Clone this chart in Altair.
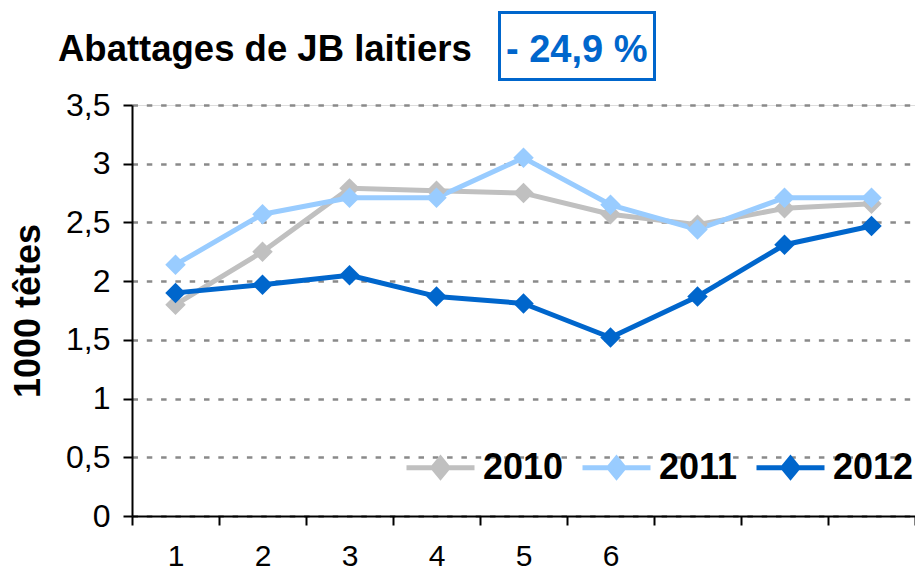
import altair as alt
import pandas as pd

# ---- data ----
periods = [1, 2, 3, 4, 5, 6, 7, 8, 9]
series_names = ["2010", "2011", "2012"]
y2010 = [1.80, 2.25, 2.79, 2.77, 2.75, 2.57, 2.48, 2.62, 2.66]
y2011 = [2.14, 2.57, 2.71, 2.71, 3.05, 2.65, 2.44, 2.71, 2.71]
y2012 = [1.90, 1.97, 2.05, 1.87, 1.81, 1.52, 1.87, 2.31, 2.47]
colors = ["#C0C0C0", "#99CCFF", "#0066CC"]
y_ticks = [0, 0.5, 1, 1.5, 2, 2.5, 3, 3.5]
x_ticks = [0.5, 1.5, 2.5, 3.5, 4.5, 5.5, 6.5, 7.5, 8.5, 9.5]
max_labelled = 6
title_text = "Abattages de JB laitiers"
badge_text = "- 24,9 %"
y_title = "1000 têtes"

rows = []
for name, vals in zip(series_names, [y2010, y2011, y2012]):
    for p, v in zip(periods, vals):
        rows.append({"periode": p, "valeur": v, "annee": name})
df = pd.DataFrame(rows)

FONT = "Liberation Sans"
W, H = 783, 411
step = W / 9.0

x_enc = alt.X(
    "periode:Q",
    scale=alt.Scale(domain=[0.5, 9.5], nice=False, zero=False),
    axis=alt.Axis(
        values=x_ticks,
        labelExpr=f"datum.value + 0.5 <= {max_labelled} ? toString(datum.value + 0.5) : ''",
        labelOffset=step / 2,
        labelFlush=False,
        labelOverlap=False,
        labelFont=FONT,
        labelFontSize=30,
        labelColor="black",
        labelPadding=16,
        tickSize=9,
        tickWidth=2,
        tickColor="black",
        domainColor="black",
        domainWidth=2,
        grid=False,
        title=None,
    ),
)
y_enc = alt.Y(
    "valeur:Q",
    scale=alt.Scale(domain=[0, 3.5], nice=False),
    axis=alt.Axis(
        values=y_ticks,
        labelExpr="replace(toString(datum.value), '.', ',')",
        labelFont=FONT,
        labelFontSize=32,
        labelColor="black",
        labelPadding=13,
        tickSize=9,
        tickWidth=2,
        tickColor="black",
        domainColor="black",
        domainWidth=2,
        grid=True,
        gridDash=[5.5, 8.8],
        gridColor="#8a8a8a",
        gridWidth=2.5,
        title=y_title,
        titleFont=FONT,
        titleFontSize=36,
        titleFontWeight="bold",
        titleColor="black",
        titleX=-85,
        titleY=H / 2,
    ),
)

legend_path = "M-1,0L-0.24,0M0.24,0L1,0M-0.22,0L0,-0.27L0.22,0L0,0.27Z"
legend = alt.Legend(
    orient="none",
    legendX=272,
    legendY=326,
    direction="horizontal",
    title=None,
    symbolType=legend_path,
    symbolSize=4624,
    symbolStrokeWidth=5,
    labelFont=FONT,
    labelFontSize=36,
    labelFontWeight="bold",
    labelColor="black",
    labelOffset=6,
    columnPadding=8,
    padding=0,
    symbolOpacity=1,
)

scale_c = alt.Scale(domain=series_names, range=colors)

lines = alt.Chart(df).mark_line(strokeWidth=5, strokeJoin="round").encode(
    x=x_enc,
    y=y_enc,
    stroke=alt.Stroke("annee:N", scale=scale_c, legend=legend),
    detail="annee:N",
)
points = alt.Chart(df).mark_point(filled=True, shape="diamond", size=420, opacity=1).encode(
    x=x_enc,
    y=y_enc,
    fill=alt.Fill("annee:N", scale=scale_c, legend=legend),
)

title_df = pd.DataFrame({"t": [title_text]})
badge_df = pd.DataFrame({"t": [badge_text]})

title_mark = alt.Chart(title_df).mark_text(
    font=FONT, fontSize=36.5, fontWeight="bold", color="black", align="left", baseline="alphabetic"
).encode(text="t:N", x=alt.value(-74), y=alt.value(-44))

badge_box = alt.Chart(badge_df).mark_rect(
    fill="white", fillOpacity=0, stroke="#0066CC", strokeWidth=3
).encode(x=alt.value(367.5), x2=alt.value(522.5), y=alt.value(-92.5), y2=alt.value(-25.5))

badge_mark = alt.Chart(badge_df).mark_text(
    font=FONT, fontSize=38, fontWeight="bold", color="#0066CC", align="left", baseline="alphabetic"
).encode(text="t:N", x=alt.value(374), y=alt.value(-43.5))

chart = alt.layer(lines, points, title_mark, badge_box, badge_mark).properties(
    width=W,
    height=H,
    autosize=alt.AutoSizeParams(type="none"),
    padding={"left": 124, "top": 97, "right": 0, "bottom": 50},
).configure_view(stroke=None).configure(background="white")

chart.save("out.html", embed_options={"renderer": "svg", "actions": False})
